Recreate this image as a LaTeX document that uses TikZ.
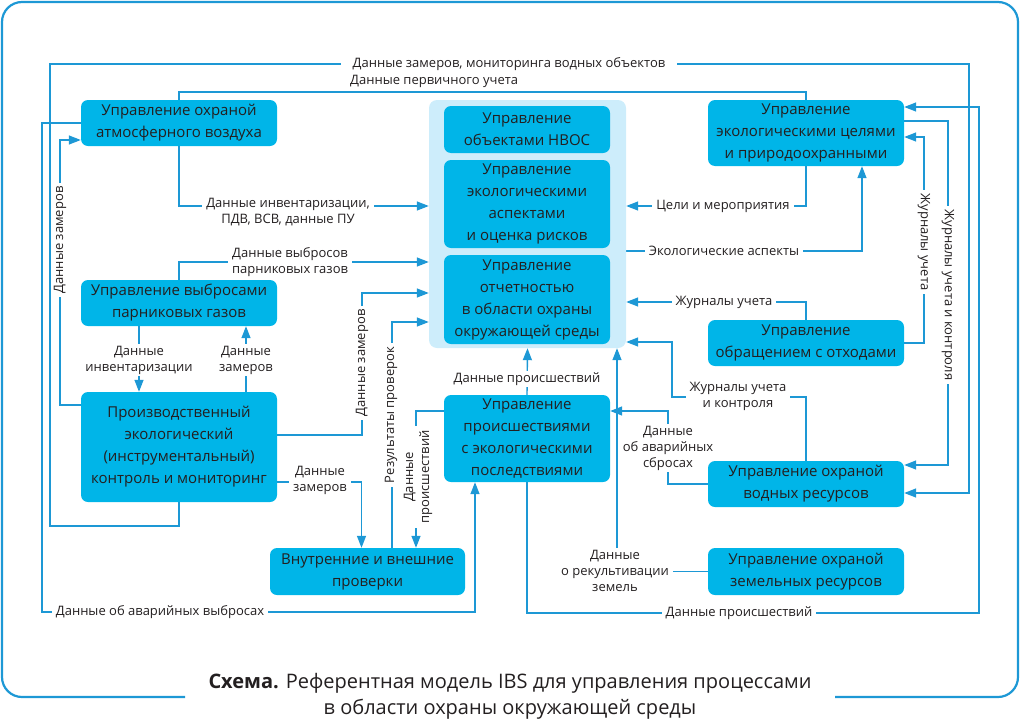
\documentclass[tikz,border=0pt]{standalone}
\usepackage{fontspec}
\setmainfont{Open Sans}
\usetikzlibrary{arrows.meta}
\definecolor{boxblue}{RGB}{0,181,232}
\definecolor{lineblue}{RGB}{29,152,213}
\definecolor{groupblue}{RGB}{205,237,251}
\definecolor{ink}{RGB}{35,31,32}
\pgfdeclarelayer{wires}
\pgfsetlayers{wires,main}
\tikzstyle{unit} = [rectangle, rounded corners=7pt, fill=boxblue, text=ink, align=center, inner sep=0pt, minimum width=196pt, font=\fontsize{15}{22}\selectfont]
\tikzstyle{group} = [rectangle, rounded corners=8pt, fill=groupblue, minimum width=197pt, minimum height=248pt]
\tikzstyle{link} = [draw=lineblue, line width=1.4pt]
\tikzstyle{arrow} = [link, -{Triangle[length=12pt,width=9pt]}]
\tikzstyle{note} = [fill=white, text=ink, align=center, inner xsep=4pt, inner ysep=2pt, font=\fontsize{13}{16}\selectfont]
\tikzstyle{frame} = [draw=lineblue, line width=2.2pt, rounded corners=20pt]

\begin{document}
\begin{tikzpicture}[x=1pt, y=-1pt]
\useasboundingbox (0,0) rectangle (1020,723);
% outer frame
\draw [frame] (185,697) -- (2,697) -- (2,2) -- (1018,2) -- (1018,697) -- (835,697);

% left column
\node (air) [unit, minimum height=46pt] at (179,123) {Управление охраной\\атмосферного воздуха};
\node (ghg) [unit, minimum height=46pt] at (179,303) {Управление выбросами\\парниковых газов};
\node (pek) [unit, minimum height=110pt] at (179,447) {Производственный\\экологический\\(инструментальный)\\контроль и мониторинг};
\node (audit) [unit, minimum width=195pt, minimum height=47pt] at (367.5,571.5) {Внутренние и внешние\\проверки};

% central group
\node (ems) [group] at (527.5,224) {};
\node (nvos) [unit, minimum width=166pt, minimum height=47pt] at (527,129.5) {Управление\\объектами НВОС};
\node (aspect) [unit, minimum width=166pt, minimum height=88pt] at (527,204) {Управление\\экологическими\\аспектами\\и оценка рисков};
\node (report) [unit, minimum width=166pt, minimum height=89pt] at (527,299.5) {Управление\\отчетностью\\в области охраны\\окружающей среды};
\node (incid) [unit, minimum width=166pt, minimum height=87pt] at (527,438.5) {Управление\\происшествиями\\с экологическими\\последствиями};

% right column
\node (goals) [unit, minimum height=66pt] at (806,133) {Управление\\экологическими целями\\и природоохранными};
\node (waste) [unit, minimum height=46pt] at (806,343) {Управление\\обращением с отходами};
\node (water) [unit, minimum height=46pt] at (806,484) {Управление охраной\\водных ресурсов};
\node (land) [unit, minimum height=47pt] at (806,571.5) {Управление охраной\\земельных ресурсов};

\begin{pgfonlayer}{wires}
% connectors
\draw [arrow] (pek.south) |- (50,526) |- (969,64) |- ([yshift=-9pt]water.east);
\draw [link] (air.north) -- ++(0,-8) -| (goals.north);
\draw [arrow] ([yshift=42pt]pek.west) -| (60,140) -- ([yshift=-17pt]air.west);
\draw [arrow] (air.west) -| (42,612) -| ([xshift=-52pt]incid.south);
\draw [arrow] (air.south) |- ([yshift=18pt]ems.west);
\draw [arrow] (ghg.north) |- ([yshift=-38pt]ems.west);
\draw [arrow] ([xshift=-40pt]ghg.south) -- ([xshift=-40pt]pek.north);
\draw [arrow] ([xshift=67pt]pek.north) -- ([xshift=67pt]ghg.south);
\draw [arrow] ([yshift=12pt]pek.east) -| (362,293) -- ([yshift=-69pt]ems.west);
\draw [arrow] ([yshift=-35pt]pek.east) -| ([xshift=-6pt]audit.north);
\draw [arrow] ([xshift=24.5pt]audit.north) |- ([yshift=-98pt]ems.west);
\draw [arrow] ([yshift=27.5pt]incid.west) -| ([xshift=48.5pt]audit.north);
\draw [arrow] (incid.north) -- (ems.south);
\draw [arrow] (land.west) -| ([xshift=89.5pt]ems.south);
\draw [arrow] (water.north) |- (672,397) |- ([yshift=-118pt]ems.east);
\draw [arrow] (water.west) -| (668,411) -- ([yshift=27.5pt]incid.east);
\draw [arrow] (waste.north) |- ([yshift=-78pt]ems.east);
\draw [arrow] (goals.south) |- ([yshift=18pt]ems.east);
\draw [arrow] ([yshift=-27pt]ems.east) -| ([xshift=56pt]goals.south);
\draw [arrow] (waste.east) -| (924,137) -- ([yshift=-4pt]goals.east);
\draw [arrow] ([yshift=12pt]goals.east) -| (948,465) -- ([yshift=19pt]water.east);
\draw [arrow] (incid.south) |- (979,613) |- ([yshift=26pt]goals.east);

% labels
\node (lmon) [note, inner xsep=12pt] at (509,64) {Данные замеров, мониторинга водных объектов};
\node (lprim) [note, fill=none, anchor=west, inner xsep=0pt] at (350,81) {Данные первичного учета};
\node (lairm) [note, rotate=90] at (60,240) {Данные замеров};
\node (lacc) [note] at (160,612) {Данные об аварийных выбросах};
\node (linv) [note] at (288,212) {Данные инвентаризации,\\ПДВ, ВСВ, данные ПУ};
\node (lghg) [note] at (290,262) {Данные выбросов\\парниковых газов};
\node (linv2) [note] at (139,360) {Данные\\инвентаризации};
\node (lmeas) [note] at (246,360) {Данные\\замеров};
\node (lmeas2) [note, rotate=90] at (362,363) {Данные замеров};
\node (lmeas3) [note] at (320,480) {Данные\\замеров};
\node (laud) [note, rotate=90] at (391,415) {Результаты проверок};
\node (linc) [note, rotate=90] at (418,477) {Данные\\происшествий};
\node (linc2) [note] at (527,379) {Данные происшествий};
\node (lland) [note] at (615,571) {Данные\\о рекультивации\\земель};
\node (ljrn) [note] at (738,396) {Журналы учета\\и контроля};
\node (lspill) [note] at (668,448) {Данные\\об аварийных\\сбросах};
\node (lwaste) [note] at (724,302) {Журналы учета};
\node (lgoal) [note] at (723,206) {Цели и мероприятия};
\node (lasp) [note] at (724,251) {Экологические аспекты};
\node (ljrn2) [note, rotate=-90] at (924,242) {Журналы учета};
\node (ljrn3) [note, rotate=-90] at (948,295) {Журналы учета и контроля};
\node (linc3) [note] at (739,613) {Данные происшествий};
\end{pgfonlayer}

% caption
\node (caption) [text=ink, align=center, font=\fontsize{20}{26}\selectfont] at (510,696) {\textbf{Схема.} Референтная модель IBS для управления процессами\\в области охраны окружающей среды};
\end{tikzpicture}
\end{document}
